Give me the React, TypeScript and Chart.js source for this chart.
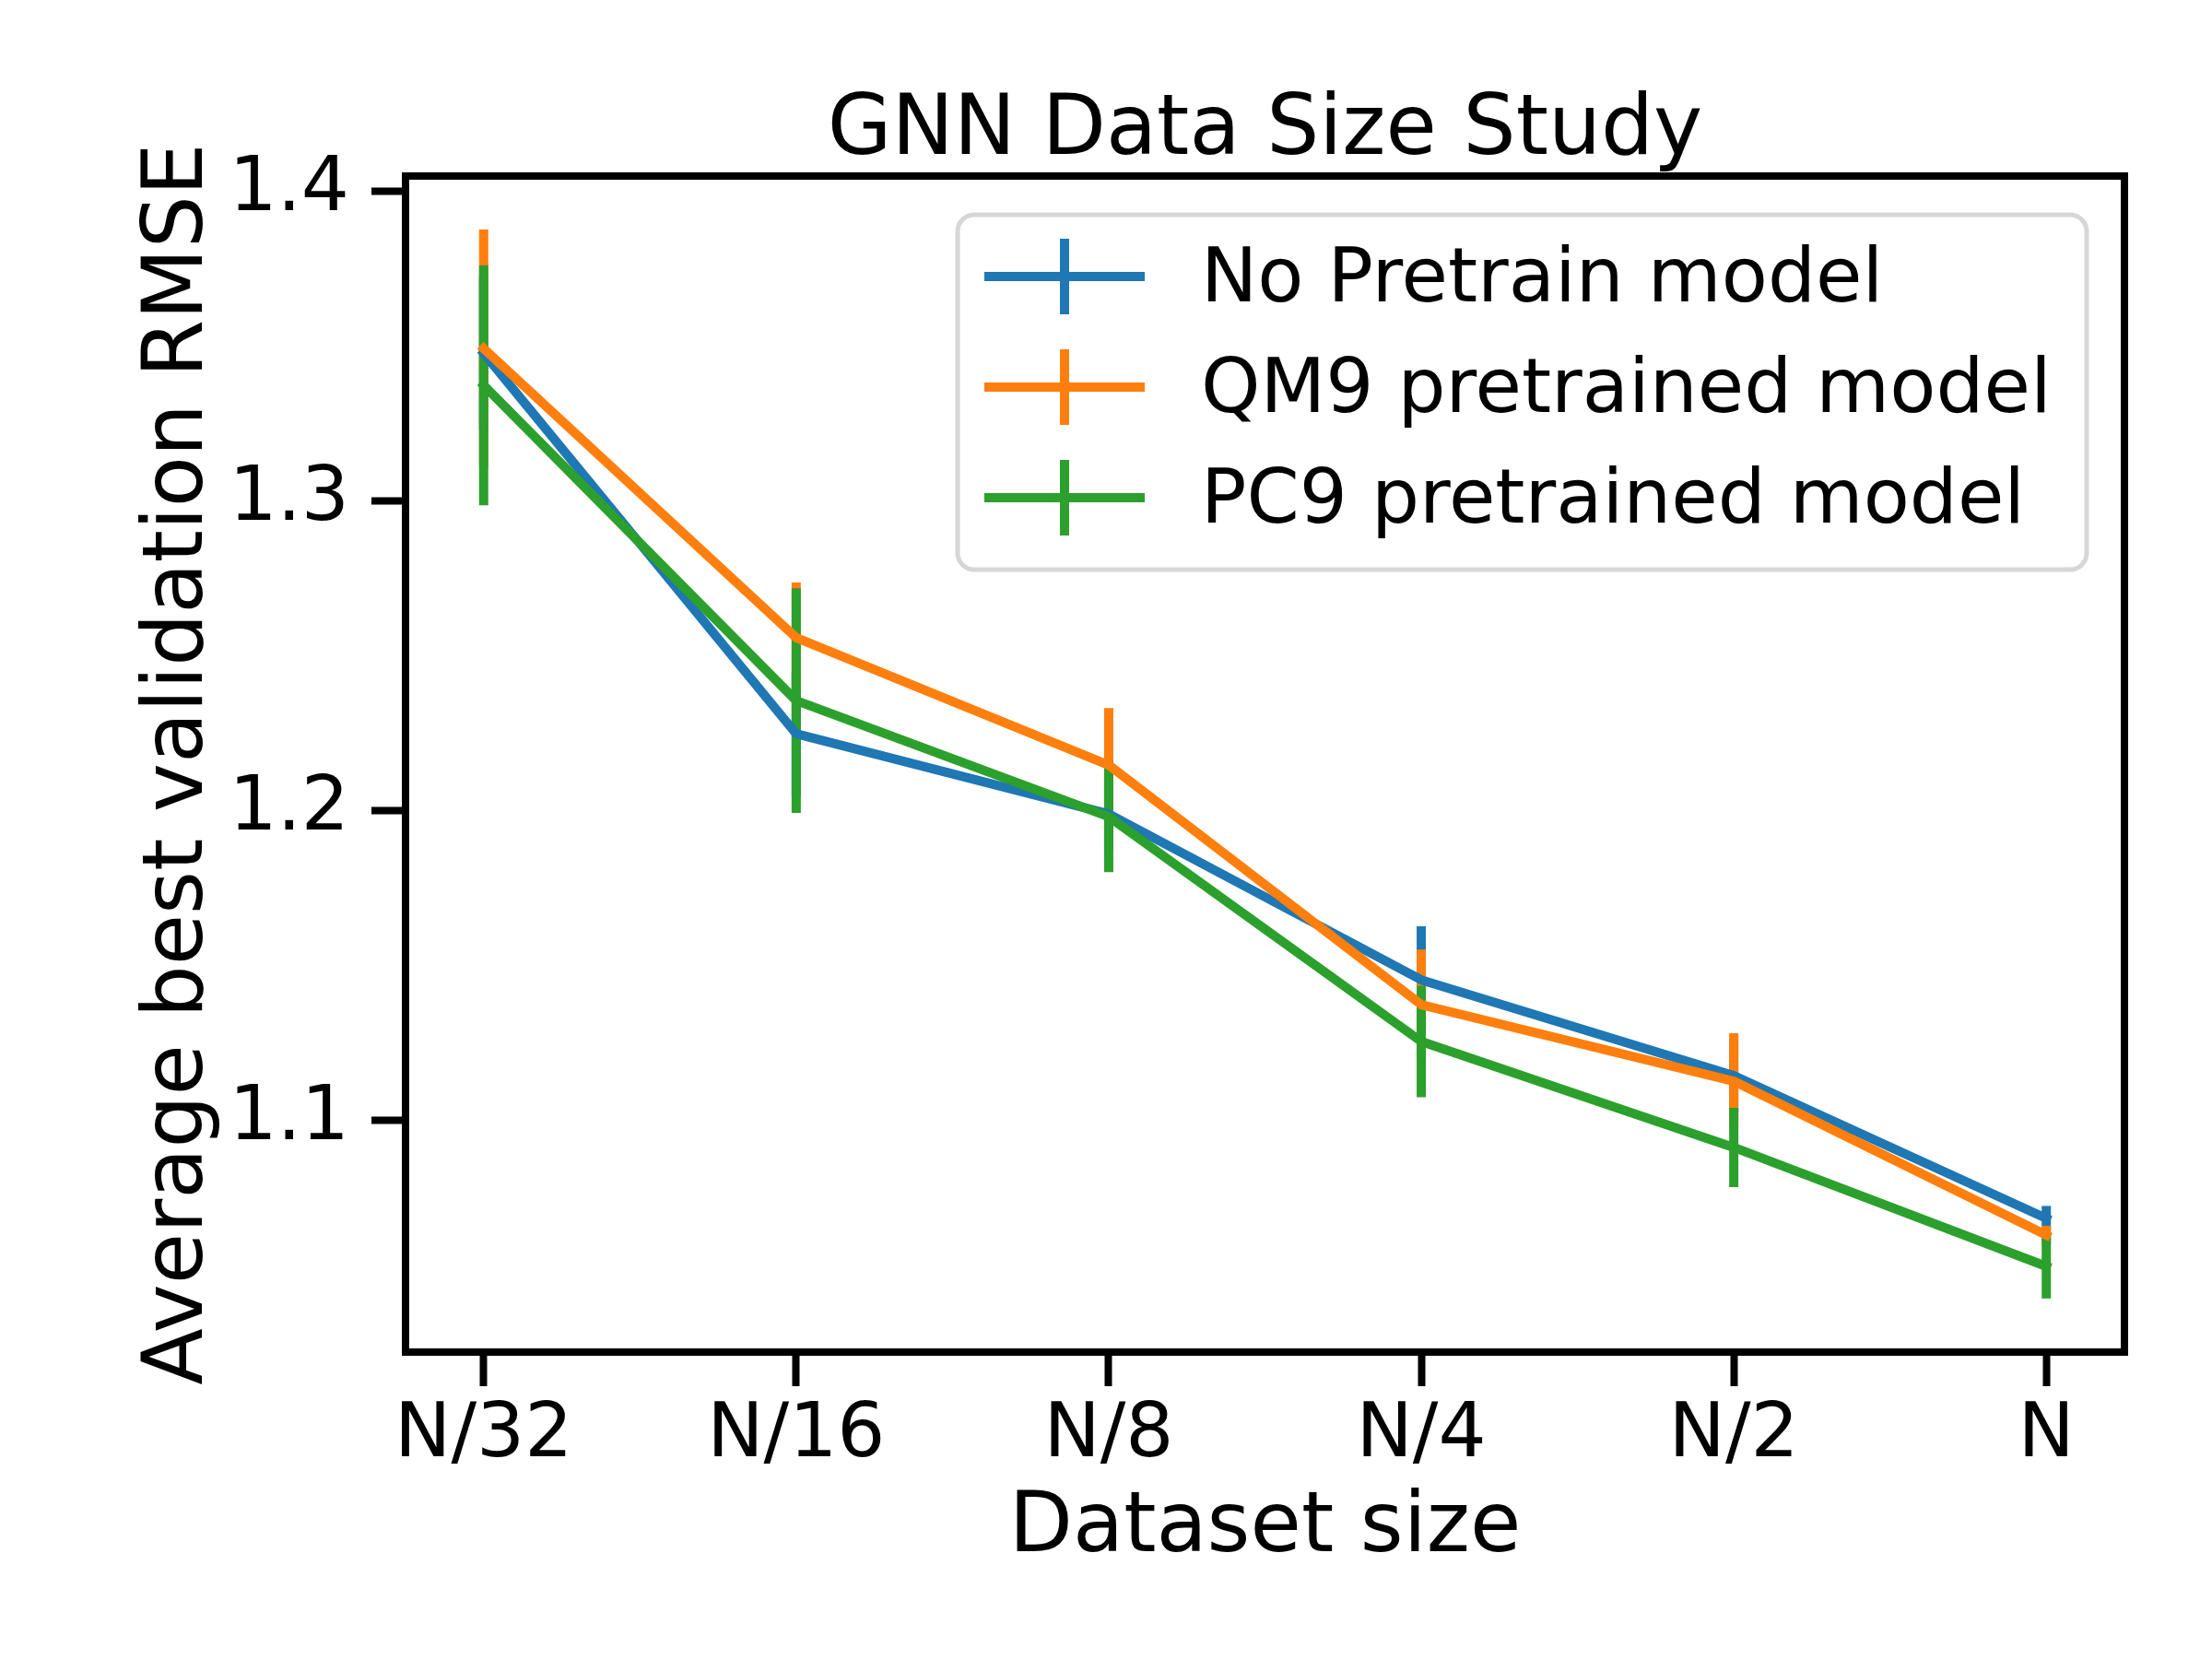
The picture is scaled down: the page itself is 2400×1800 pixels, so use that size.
import React, { useEffect, useRef } from "react";
import { Chart, registerables, Plugin } from "chart.js";

Chart.register(...registerables);

const sizes = ["N/32", "N/16", "N/8", "N/4", "N/2", "N"];
const yTicks = [1.1, 1.2, 1.3, 1.4];

const seriesNames = ["No Pretrain model", "QM9 pretrained model", "PC9 pretrained model"];
const seriesColors = ["#1f77b4", "#ff7f0e", "#2ca02c"];

const noPretrain = [1.3476, 1.2247, 1.1988, 1.1452, 1.1143, 1.0682];
const noPretrainErr = [0.025, 0.02, 0.012, 0.0173, 0.012, 0.004];
const qm9 = [1.3491, 1.2557, 1.2146, 1.1372, 1.1125, 1.0628];
const qm9Err = [0.0384, 0.0178, 0.0184, 0.0178, 0.0155, 0.003];
const pc9 = [1.3372, 1.2354, 1.1979, 1.1253, 1.0911, 1.0527];
const pc9Err = [0.0387, 0.0363, 0.0179, 0.018, 0.0128, 0.0104];

const means = [noPretrain, qm9, pc9];
const errs = [noPretrainErr, qm9Err, pc9Err];

const FONT = "'DejaVu Sans', sans-serif";

// vertical error bars, all drawn under the lines like matplotlib does
const errorBars: Plugin<"line"> = {
    id: "errorBars",
    beforeDatasetsDraw(chart) {
        const { ctx, chartArea, scales } = chart;
        ctx.save();
        ctx.beginPath();
        ctx.rect(chartArea.left, chartArea.top, chartArea.width, chartArea.height);
        ctx.clip();
        ctx.lineWidth = 10;
        ctx.lineCap = "butt";
        means.forEach((vals, s) => {
            ctx.strokeStyle = seriesColors[s];
            vals.forEach((v, i) => {
                const x = scales.x.getPixelForValue(i);
                ctx.beginPath();
                ctx.moveTo(x, scales.y.getPixelForValue(v - errs[s][i]));
                ctx.lineTo(x, scales.y.getPixelForValue(v + errs[s][i]));
                ctx.stroke();
            });
        });
        ctx.restore();
    },
};

const frameTitleLegend: Plugin<"line"> = {
    id: "frameTitleLegend",
    afterDraw(chart) {
        const { ctx, chartArea } = chart;
        const { left, top, width, height } = chartArea;
        ctx.save();

        // spines
        ctx.strokeStyle = "#000";
        ctx.lineWidth = 8;
        ctx.strokeRect(left, top, width, height);

        // title
        ctx.fillStyle = "#000";
        ctx.font = `90px ${FONT}`;
        ctx.textAlign = "center";
        ctx.textBaseline = "alphabetic";
        ctx.fillText("GNN Data Size Study", left + width / 2, 167);

        // legend
        const bx = 1039, by = 233, bw = 1225, bh = 385;
        ctx.fillStyle = "rgba(255,255,255,0.8)";
        ctx.strokeStyle = "#d6d6d6";
        ctx.lineWidth = 5;
        ctx.beginPath();
        ctx.roundRect(bx, by, bw, bh, 18);
        ctx.fill();
        ctx.stroke();

        ctx.font = `82px ${FONT}`;
        ctx.textAlign = "left";
        ctx.textBaseline = "middle";
        seriesNames.forEach((name, i) => {
            const ry = 300 + i * 120;
            ctx.strokeStyle = seriesColors[i];
            ctx.lineWidth = 10;
            ctx.lineCap = "butt";
            ctx.beginPath();
            ctx.moveTo(1068, ry);
            ctx.lineTo(1242, ry);
            ctx.moveTo(1155, ry - 41);
            ctx.lineTo(1155, ry + 41);
            ctx.stroke();
            ctx.fillStyle = "#000";
            ctx.fillText(name, 1303, ry + 6);
        });
        ctx.restore();
    },
};

export default function App() {
    const ref = useRef<HTMLCanvasElement | null>(null);

    useEffect(() => {
        if (!ref.current) return;
        document.body.style.margin = "0";

        const chart = new Chart(ref.current, {
            type: "line",
            data: {
                datasets: means.map((vals, s) => ({
                    label: seriesNames[s],
                    data: vals.map((v, i) => ({ x: i, y: v })),
                    borderColor: seriesColors[s],
                    backgroundColor: seriesColors[s],
                    borderWidth: 10,
                    borderJoinStyle: "round" as const,
                    borderCapStyle: "square" as const,
                    pointRadius: 0,
                    fill: false,
                    tension: 0,
                    order: 3 - s,
                })),
            },
            options: {
                animation: false,
                responsive: false,
                devicePixelRatio: 1,
                layout: { padding: { top: 191, right: 95, left: 0, bottom: 0 } },
                plugins: {
                    legend: { display: false },
                    tooltip: { enabled: false },
                },
                scales: {
                    x: {
                        type: "linear",
                        min: -0.25,
                        max: 5.25,
                        afterFit: (scale) => {
                            scale.height = 333;
                        },
                        afterBuildTicks: (scale) => {
                            scale.ticks = sizes.map((_, i) => ({ value: i }));
                        },
                        ticks: {
                            autoSkip: false,
                            maxRotation: 0,
                            padding: 6,
                            color: "#000",
                            font: { family: FONT, size: 82 },
                            callback: (v) => sizes[Number(v)] ?? "",
                        },
                        grid: {
                            drawOnChartArea: false,
                            drawTicks: true,
                            tickLength: 37,
                            tickWidth: 8,
                            tickColor: "#000",
                        },
                        border: { display: false },
                        title: {
                            display: true,
                            text: "Dataset size",
                            color: "#000",
                            font: { family: FONT, size: 90 },
                            padding: { top: 0, bottom: 86 },
                        },
                    },
                    y: {
                        type: "linear",
                        min: 1.025,
                        max: 1.4048,
                        afterFit: (scale) => {
                            scale.width = 440;
                        },
                        afterBuildTicks: (scale) => {
                            scale.ticks = yTicks.map((v) => ({ value: v }));
                        },
                        ticks: {
                            padding: 24,
                            color: "#000",
                            font: { family: FONT, size: 82 },
                            callback: (v) => Number(v).toFixed(1),
                        },
                        grid: {
                            drawOnChartArea: false,
                            drawTicks: true,
                            tickLength: 37,
                            tickWidth: 8,
                            tickColor: "#000",
                        },
                        border: { display: false },
                        title: {
                            display: true,
                            text: "Average best validation RMSE",
                            color: "#000",
                            font: { family: FONT, size: 90 },
                            padding: { top: 142, bottom: 0 },
                        },
                    },
                },
            },
            plugins: [errorBars, frameTitleLegend],
        });

        return () => chart.destroy();
    }, []);

    return (
        <div style={{ width: 2400, height: 1800, background: "#fff" }}>
            <canvas ref={ref} width={2400} height={1800} />
        </div>
    );
}
